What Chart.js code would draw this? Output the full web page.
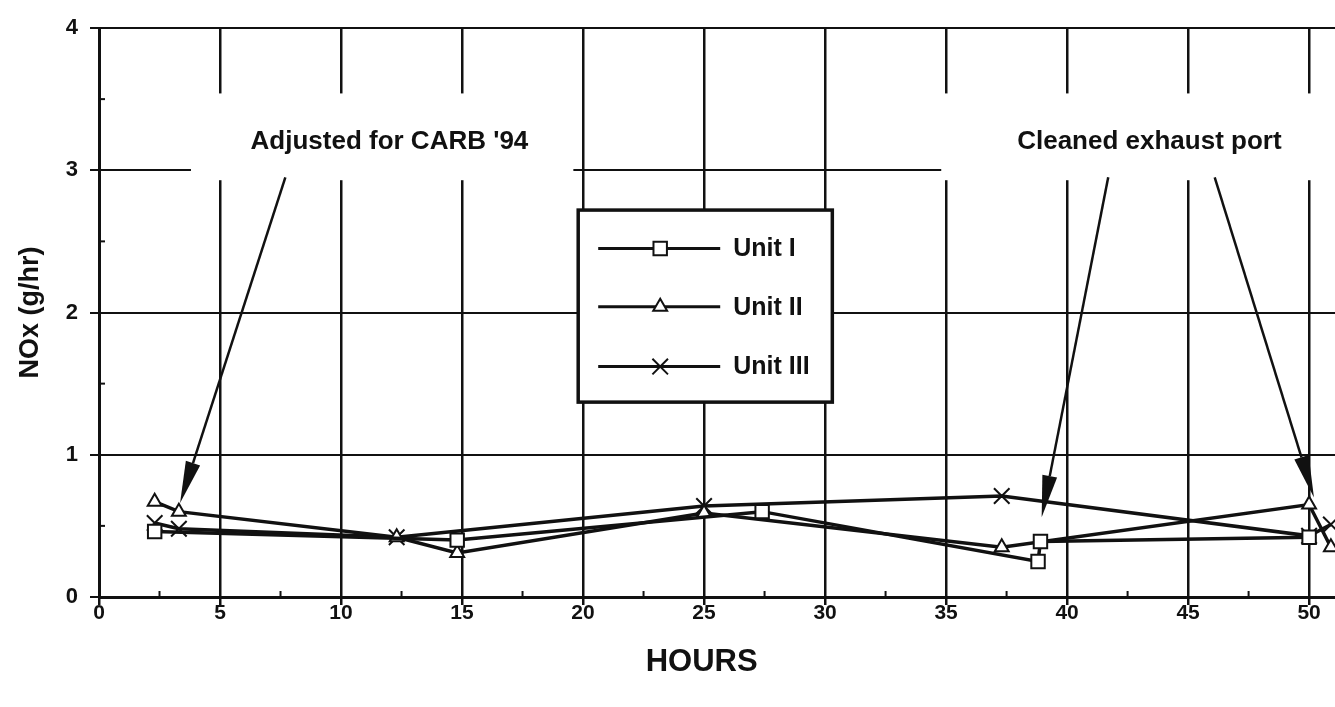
<!DOCTYPE html>
<html>
<head>
<meta charset="utf-8">
<script src="https://cdn.jsdelivr.net/npm/chart.js@4.4.1/dist/chart.umd.min.js"></script>
<style>
  html, body { margin: 0; padding: 0; background: #fff; overflow: hidden; }
  #noxChart { display: block; }
</style>
</head>
<body>
<canvas id="noxChart" width="1335" height="707"></canvas>
<script>
// ── Values: hours vs NOx (g/hr) ──
const unit1Hours = [2.3, 14.8, 27.4, 38.8, 38.9, 50.0];
const unit1NOx   = [0.46, 0.40, 0.60, 0.25, 0.39, 0.42];

const unit2Hours = [2.3, 3.3, 12.3, 14.8, 25.0, 37.3, 50.0, 50.9];
const unit2NOx   = [0.67, 0.60, 0.42, 0.31, 0.59, 0.35, 0.65, 0.35];

const unit3Hours = [2.3, 3.3, 12.3, 25.0, 37.3, 50.0, 50.9];
const unit3NOx   = [0.52, 0.48, 0.42, 0.64, 0.71, 0.43, 0.51];

const seriesNames = ['Unit I', 'Unit II', 'Unit III'];

// ── Axis ticks ──
const xTicks      = [0, 5, 10, 15, 20, 25, 30, 35, 40, 45, 50];
const xMinorTicks = [2.5, 7.5, 12.5, 17.5, 22.5, 27.5, 32.5, 37.5, 42.5, 47.5];
const yTicks      = [0, 1, 2, 3, 4];
const yMinorTicks = [0.5, 1.5, 2.5, 3.5];

// ── Callouts (text + arrows), in data units ──
const callouts = [
  {
    text: "Adjusted for CARB '94",
    at: [12.0, 3.2],
    mask: [3.8, 19.6, 2.93, 3.54],
    arrows: [[[7.7, 2.95], [3.35, 0.66]]],
  },
  {
    text: 'Cleaned exhaust port',
    at: [43.4, 3.2],
    mask: [34.8, 51.2, 2.93, 3.54],
    arrows: [[[41.7, 2.95], [38.95, 0.56]], [[46.1, 2.95], [50.2, 0.70]]],
  },
];

// x-axis title sits a bit left of the cropped axis centre
const xTitle = { text: 'HOURS', at: 24.9 };

// legend box corners + row positions (data units)
const legendBox  = [19.8, 30.3, 1.37, 2.72];
const legendRows = [2.45, 2.04, 1.62];

const ink  = '#111';
const font = "'Liberation Sans', Arial, sans-serif";
const pointStyles = ['rect', 'triangle', 'crossRot'];
const pointRadii  = [9.5, 8, 11];

const toXY = (xs, ys) => xs.map((x, i) => ({ x, y: ys[i] }));

function arrow(ctx, x0, y0, x1, y1) {
  const len = 42, half = 7.5;
  const ang = Math.atan2(y1 - y0, x1 - x0);
  const bx = x1 - Math.cos(ang) * len, by = y1 - Math.sin(ang) * len;
  ctx.beginPath();
  ctx.moveTo(x0, y0);
  ctx.lineTo(bx, by);
  ctx.stroke();
  ctx.beginPath();
  ctx.moveTo(x1, y1);
  ctx.lineTo(bx + Math.sin(ang) * half, by - Math.cos(ang) * half);
  ctx.lineTo(bx - Math.sin(ang) * half, by + Math.cos(ang) * half);
  ctx.closePath();
  ctx.fill();
}

function marker(ctx, style, x, y, r) {
  ctx.beginPath();
  if (style === 'rect') {
    const s = r * Math.SQRT1_2;
    ctx.rect(x - s, y - s, s * 2, s * 2);
    ctx.fill(); ctx.stroke();
  } else if (style === 'triangle') {
    ctx.moveTo(x, y - r);
    ctx.lineTo(x + r * 0.866, y + r * 0.5);
    ctx.lineTo(x - r * 0.866, y + r * 0.5);
    ctx.closePath();
    ctx.fill(); ctx.stroke();
  } else {
    const s = r * Math.SQRT1_2;
    ctx.moveTo(x - s, y - s); ctx.lineTo(x + s, y + s);
    ctx.moveTo(x + s, y - s); ctx.lineTo(x - s, y + s);
    ctx.stroke();
  }
}

const overlayPlugin = {
  id: 'overlay',
  beforeDatasetsDraw(chart) {
    const { ctx, scales: { x, y } } = chart;
    ctx.save();
    ctx.fillStyle = '#fff';
    callouts.forEach(c => {
      const [x0, x1, y0, y1] = c.mask;
      const l = x.getPixelForValue(x0), r = x.getPixelForValue(x1);
      const t = y.getPixelForValue(y1), b = y.getPixelForValue(y0);
      ctx.fillRect(l, t, r - l, b - t);
    });
    ctx.restore();
  },
  afterDatasetsDraw(chart) {
    const { ctx, scales: { x, y } } = chart;
    ctx.save();
    ctx.strokeStyle = ink;
    ctx.fillStyle = ink;

    // minor ticks
    ctx.lineWidth = 2;
    const ax = x.getPixelForValue(0), ay = y.getPixelForValue(0);
    xMinorTicks.forEach(v => {
      const px = x.getPixelForValue(v);
      ctx.beginPath(); ctx.moveTo(px, ay); ctx.lineTo(px, ay - 6); ctx.stroke();
    });
    yMinorTicks.forEach(v => {
      const py = y.getPixelForValue(v);
      ctx.beginPath(); ctx.moveTo(ax, py); ctx.lineTo(ax + 6, py); ctx.stroke();
    });

    // callout text + arrows
    ctx.font = `bold 26px ${font}`;
    ctx.textAlign = 'center';
    ctx.textBaseline = 'middle';
    ctx.lineWidth = 2.5;
    callouts.forEach(c => {
      ctx.fillText(c.text, x.getPixelForValue(c.at[0]), y.getPixelForValue(c.at[1]));
      c.arrows.forEach(([from, to]) => {
        arrow(ctx,
          x.getPixelForValue(from[0]), y.getPixelForValue(from[1]),
          x.getPixelForValue(to[0]), y.getPixelForValue(to[1]));
      });
    });

    // x-axis title
    ctx.font = `bold 31px ${font}`;
    ctx.fillText(xTitle.text, x.getPixelForValue(xTitle.at), 662);

    // legend
    const [lx0, lx1, ly0, ly1] = legendBox;
    const l = x.getPixelForValue(lx0), r = x.getPixelForValue(lx1);
    const t = y.getPixelForValue(ly1), b = y.getPixelForValue(ly0);
    ctx.fillStyle = '#fff';
    ctx.fillRect(l, t, r - l, b - t);
    ctx.lineWidth = 3.5;
    ctx.strokeRect(l, t, r - l, b - t);
    ctx.font = `bold 25px ${font}`;
    ctx.textAlign = 'left';
    legendRows.forEach((v, i) => {
      const py = y.getPixelForValue(v);
      ctx.strokeStyle = ink;
      ctx.lineWidth = 3;
      ctx.beginPath(); ctx.moveTo(l + 20, py); ctx.lineTo(l + 142, py); ctx.stroke();
      ctx.lineWidth = 2;
      ctx.fillStyle = '#fff';
      marker(ctx, pointStyles[i], l + 82, py, pointRadii[i]);
      ctx.fillStyle = ink;
      ctx.fillText(seriesNames[i], l + 155, py + 1);
    });
    ctx.restore();
  },
};

const seriesData = [
  toXY(unit1Hours, unit1NOx),
  toXY(unit2Hours, unit2NOx),
  toXY(unit3Hours, unit3NOx),
];

new Chart(document.getElementById('noxChart'), {
  type: 'line',
  data: {
    datasets: seriesData.map((d, i) => ({
      label: seriesNames[i],
      data: d,
      borderColor: ink,
      borderWidth: 3.5,
      tension: 0,
      pointStyle: pointStyles[i],
      pointRadius: pointRadii[i],
      pointBackgroundColor: '#fff',
      pointBorderColor: ink,
      pointBorderWidth: 2,
    })),
  },
  plugins: [overlayPlugin],
  options: {
    responsive: false,
    animation: false,
    layout: { autoPadding: false, padding: { top: 28, left: 0, right: 0, bottom: 0 } },
    plugins: { legend: { display: false }, tooltip: { enabled: false } },
    scales: {
      x: {
        type: 'linear',
        min: 0,
        max: 51.07,
        afterBuildTicks: s => { s.ticks = xTicks.map(v => ({ value: v })); },
        afterFit: s => { s.height = 110; s.paddingRight = 0; s.paddingLeft = 0; },
        grid: { color: ink, lineWidth: 2.5, tickLength: 8 },
        border: { color: ink, width: 3 },
        ticks: { color: ink, font: { family: font, size: 21, weight: 'bold' }, padding: -4, maxRotation: 0 },
      },
      y: {
        type: 'linear',
        min: 0,
        max: 4,
        afterBuildTicks: s => { s.ticks = yTicks.map(v => ({ value: v })); },
        afterFit: s => { s.width = 99; },
        grid: { color: ink, lineWidth: 2, tickLength: 9 },
        border: { color: ink, width: 3 },
        ticks: { color: ink, font: { family: font, size: 22, weight: 'bold' }, padding: 12 },
        title: {
          display: true, text: 'NOx (g/hr)', color: ink,
          font: { family: font, size: 27, weight: 'bold' },
          padding: { top: 14, bottom: 0 },
        },
      },
    },
  },
});
</script>
</body>
</html>
